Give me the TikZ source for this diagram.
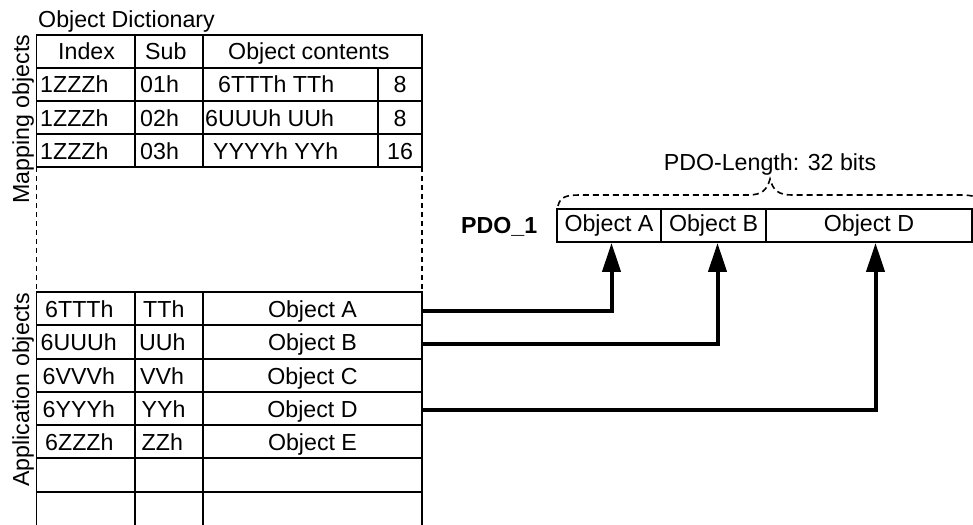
\documentclass[tikz,border=0pt]{standalone}
\usepackage{fontspec}
\setmainfont{Liberation Sans}
\usetikzlibrary{arrows.meta}
\begin{document}
\begin{tikzpicture}[x=1pt,y=-1pt,
  font=\fontsize{23.2}{28}\selectfont,
  tl/.style={line width=1.8pt},
  dl/.style={line width=1.2pt, dash pattern=on 5pt off 4pt},
  txt/.style={inner sep=0pt, anchor=base west},
  ctxt/.style={inner sep=0pt, anchor=base},
  pcell/.style={draw, line width=1.8pt, minimum height=33pt, inner sep=0pt},
  arr/.style={line width=4pt, line join=miter, -{Triangle[length=29pt,width=18pt]}},
  brace/.style={line width=1.6pt, dash pattern=on 6pt off 4pt},
]
\clip (0,0) rectangle (973,524);

% titles
\node[txt] (title) at (38,28) {Object Dictionary};
\node[ctxt, rotate=90] (mapl) at (29,119) {Mapping objects};
\node[ctxt, rotate=90] (appl) at (29,390) {Application objects};

% mapping table grid
\draw[tl] (36.5,35) rectangle (422,167);
\foreach \y in {68,101,134} \draw[tl] (36.5,\y) -- (422,\y);
\draw[tl] (135,35) -- (135,167);
\draw[tl] (203,35) -- (203,167);
\draw[tl] (378,68) -- (378,167);
\draw[dl] (36.5,167) -- (36.5,292);
\draw[dl] (422,167) -- (422,292);

% mapping table text
\node[txt] (hI) at (58,60) {Index};
\node[txt] (hS) at (145,60) {Sub};
\node[txt] (hC) at (228,60) {Object contents};
\node[txt] (m1i) at (40,93) {1ZZZh};
\node[txt] (m1s) at (140,93) {01h};
\node[txt] (m1c) at (218,93) {6TTTh TTh};
\node[ctxt] (m1n) at (400,93) {8};
\node[txt] (m2i) at (40,126) {1ZZZh};
\node[txt] (m2s) at (140,126) {02h};
\node[txt] (m2c) at (205,126) {6UUUh UUh};
\node[ctxt] (m2n) at (400,126) {8};
\node[txt] (m3i) at (40,159) {1ZZZh};
\node[txt] (m3s) at (140,159) {03h};
\node[txt] (m3c) at (213,159) {YYYYh YYh};
\node[ctxt] (m3n) at (400,159) {16};

% application table grid
\draw[tl] (36.5,530) -- (36.5,292) -- (422,292) -- (422,530);
\foreach \y in {325,359,392,425,458,492} \draw[tl] (36.5,\y) -- (422,\y);
\draw[tl] (135,292) -- (135,530);
\draw[tl] (203,292) -- (203,530);

% application table text
\node[txt] (a1i) at (45,317) {6TTTh};
\node[txt] (a1s) at (143,317) {TTh};
\node[ctxt] (oA) at (312.5,317) {Object A};
\node[txt] (a2i) at (40.5,350.5) {6UUUh};
\node[txt] (a2s) at (139,350.5) {UUh};
\node[ctxt] (oB) at (312.5,350.5) {Object B};
\node[txt] (a3i) at (42.5,384) {6VVVh};
\node[txt] (a3s) at (140,384) {VVh};
\node[ctxt] (oC) at (312.5,384) {Object C};
\node[txt] (a4i) at (42.5,417) {6YYYh};
\node[txt] (a4s) at (141.5,417) {YYh};
\node[ctxt] (oD) at (312.5,417) {Object D};
\node[txt] (a5i) at (45,450) {6ZZZh};
\node[txt] (a5s) at (141.5,450) {ZZh};
\node[ctxt] (oE) at (312.5,450) {Object E};

% PDO
\node[txt, font=\fontsize{23.2}{28}\selectfont\bfseries] (pdo) at (461,233) {PDO\_1};
\node[pcell, minimum width=104pt] (pA) at (609,225.5) {Object A};
\node[pcell, minimum width=105pt] (pB) at (713.5,225.5) {Object B};
\node[pcell, minimum width=206pt] (pD) at (869,225.5) {Object D};

% brace and length label
\node[ctxt] (len) at (770,170) {PDO-Length: 32 bits};
\draw[brace] (558,206) .. controls (560,197) and (566,195) .. (580,195)
  -- (748,195) .. controls (762,195) and (767,190) .. (770,179)
  .. controls (773,190) and (778,195) .. (792,195)
  -- (960,195) .. controls (974,195) and (980,197) .. (982,206);

% connectors
\coordinate (sA) at (422,311);
\coordinate (sB) at (422,344);
\coordinate (sD) at (422,410);
\draw[arr] (sA) -| ([xshift=2.5pt]pA.south);
\draw[arr] (sB) -| ([xshift=4pt]pB.south);
\draw[arr] (sD) -| ([xshift=6.5pt]pD.south);
\end{tikzpicture}
\end{document}
